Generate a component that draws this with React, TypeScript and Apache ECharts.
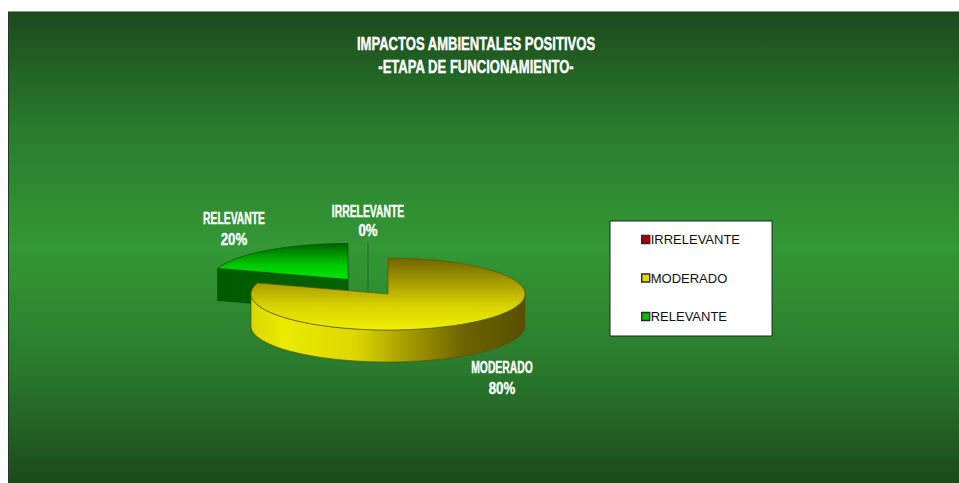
import React, { useEffect, useRef } from "react";
import * as echarts from "echarts";

const categories = ["IRRELEVANTE", "MODERADO", "RELEVANTE"];
const shares = [0, 80, 20];
const titleLines = ["IMPACTOS AMBIENTALES POSITIVOS", "-ETAPA DE FUNCIONAMIENTO-"];

const WIDTH = 959;
const HEIGHT = 483;
const PIE = { cx: 388, cy: 294, rx: 137, ry: 36, depth: 32 };
const LABEL_FONT = '"Liberation Sans", Arial, sans-serif';

type Look = {
  color: string;
  offset: [number, number];
  nameAt: [number, number];
  shareAt: [number, number];
  z: number;
  edge: string;
  top: [number, string][];
  wall: [number, string][];
};

// Per-category look; the pull-out offset moves a wedge away from the pie centre.
const looks: Record<string, Look> = {
  IRRELEVANTE: {
    color: "#b00000",
    offset: [-20, -16],
    nameAt: [368, 211],
    shareAt: [368, 230],
    z: 2,
    edge: "#246a28",
    top: [[0, "#246a28"], [1, "#246a28"]],
    wall: [[0, "#246a28"], [1, "#246a28"]],
  },
  MODERADO: {
    color: "#e0e000",
    offset: [0, 0],
    nameAt: [502, 367],
    shareAt: [502, 388],
    z: 4,
    edge: "#5c5600",
    top: [[0, "#6f6500"], [0.4, "#b0a600"], [0.68, "#d8d400"], [1, "#f0f000"]],
    wall: [
      [0, "#d8d800"],
      [0.12, "#eaea00"],
      [0.38, "#dcd800"],
      [0.55, "#aaa200"],
      [0.78, "#6c6200"],
      [1, "#585000"],
    ],
  },
  RELEVANTE: {
    color: "#00c000",
    offset: [-40, -14.5],
    nameAt: [234, 218],
    shareAt: [234, 239],
    z: 3,
    edge: "#004c00",
    top: [[0, "#006200"], [0.6, "#00c800"], [1, "#00e800"]],
    wall: [[0, "#005a00"], [1, "#006c00"]],
  },
};

const total = shares.reduce((a, b) => a + b, 0);

function rimPoint(cx: number, cy: number, turn: number): [number, number] {
  const a = turn * Math.PI * 2;
  return [cx + PIE.rx * Math.sin(a), cy - PIE.ry * Math.cos(a)];
}

function sampleTurns(from: number, to: number): number[] {
  const steps = Math.max(1, Math.ceil((to - from) * 240));
  const out: number[] = [];
  for (let i = 0; i <= steps; i++) out.push(from + ((to - from) * i) / steps);
  return out;
}

function linear(x0: number, y0: number, x1: number, y1: number, stops: [number, string][]) {
  return {
    type: "linear",
    x: x0,
    y: y0,
    x2: x1,
    y2: y1,
    global: true,
    colorStops: stops.map(([offset, color]) => ({ offset, color })),
  };
}

// Condensed white caption text, made by squeezing a bold face horizontally.
function caption(text: string, at: [number, number], squeeze: number) {
  return {
    type: "text",
    x: at[0],
    y: at[1],
    scaleX: squeeze,
    style: {
      text,
      fill: "#ffffff",
      stroke: "#ffffff",
      lineWidth: 0.4,
      font: `bold 17px ${LABEL_FONT}`,
      align: "center",
      verticalAlign: "middle",
    },
  };
}

// Builds the wedge shapes (walls, then top face, then its labels) from the share values.
function wedge(name: string, start: number, value: number) {
  const look = looks[name];
  const end = start + value / total;
  const cx = PIE.cx + look.offset[0];
  const cy = PIE.cy + look.offset[1];
  const d = PIE.depth;
  const children: any[] = [];
  const edgeStyle = { stroke: look.edge, lineWidth: 0.7 };

  if (value === 0) {
    const p = rimPoint(cx, cy, start);
    children.push({
      type: "line",
      shape: { x1: p[0], y1: p[1], x2: p[0], y2: cy + d },
      style: { stroke: look.edge, lineWidth: 1 },
    });
  } else {
    const wallFill = linear(cx - PIE.rx, 0, cx + PIE.rx, 0, look.wall);
    const startA = start * Math.PI * 2;
    const endA = end * Math.PI * 2;
    const cut = (turn: number) => {
      const p = rimPoint(cx, cy, turn);
      children.push({
        type: "polygon",
        shape: { points: [p, [cx, cy], [cx, cy + d], [p[0], p[1] + d]] },
        style: { fill: wallFill, ...edgeStyle },
      });
    };
    if (Math.sin(startA) < -1e-6) cut(start);
    if (Math.sin(endA) > 1e-6) cut(end);

    const from = Math.max(start, 0.25);
    const to = Math.min(end, 0.75);
    if (to > from) {
      const arc = sampleTurns(from, to).map((t) => rimPoint(cx, cy, t));
      const lower = arc.map((p) => [p[0], p[1] + d]).reverse();
      children.push({
        type: "polygon",
        shape: { points: [...arc, ...lower] },
        style: { fill: wallFill, ...edgeStyle },
      });
    }

    const face = sampleTurns(start, end).map((t) => rimPoint(cx, cy, t));
    const ys = [cy, ...face.map((p) => p[1])];
    children.push({
      type: "polygon",
      shape: { points: [[cx, cy], ...face] },
      style: {
        fill: linear(0, Math.min(...ys), 0, Math.max(...ys), look.top),
        ...edgeStyle,
      },
    });
  }

  children.push(caption(name, look.nameAt, 0.61));
  children.push(caption(`${Math.round((value / total) * 100)}%`, look.shareAt, 0.78));
  return { type: "group", children };
}

let running = 0;
const startTurns = shares.map((v) => {
  const s = running;
  running += v / total;
  return s;
});

export default function App() {
  const ref = useRef<HTMLDivElement>(null);

  useEffect(() => {
    document.body.style.margin = "0";
    document.body.style.background = "#ffffff";
    const chart = echarts.init(ref.current!, null, { renderer: "svg" });
    chart.setOption({
      animation: false,
      backgroundColor: "#ffffff",
      graphic: [
        {
          type: "rect",
          shape: { x: 8.5, y: 11.5, width: WIDTH, height: HEIGHT },
          style: {
            fill: linear(0, 11, 0, 483, [
              [0, "#1b4a1c"],
              [0.25, "#2a7b2d"],
              [0.5, "#339835"],
              [0.75, "#2a7b2d"],
              [1, "#1b4a1c"],
            ]),
            stroke: "#24392a",
            lineWidth: 1,
          },
        },
        {
          type: "line",
          shape: { x1: 8, y1: 11.5, x2: WIDTH, y2: 11.5 },
          style: { stroke: "#8c938c", lineWidth: 1 },
        },
        {
          type: "text",
          x: 476,
          y: 55,
          scaleX: 0.726,
          z: 5,
          style: {
            text: titleLines.join("\n"),
            fill: "#ffffff",
            stroke: "#ffffff",
            lineWidth: 0.4,
            font: `bold 18px ${LABEL_FONT}`,
            lineHeight: 23,
            align: "center",
            verticalAlign: "middle",
          },
        },
      ],
      legend: {
        orient: "vertical",
        left: 610,
        top: 221,
        data: categories,
        icon: "rect",
        itemWidth: 8,
        itemHeight: 8,
        itemGap: 25.5,
        padding: [12, 32, 13, 31],
        backgroundColor: "#ffffff",
        borderColor: "#222222",
        borderWidth: 1,
        selectedMode: false,
        textStyle: {
          color: "#111111",
          fontFamily: LABEL_FONT,
          fontSize: 13,
          padding: [0, 0, 0, -4],
        },
        itemStyle: { borderColor: "#2a2a2a", borderWidth: 1.4 },
      },
      series: categories.map((name, i) => ({
        type: "custom",
        name,
        coordinateSystem: "none",
        z: looks[name].z,
        itemStyle: { color: looks[name].color },
        data: [shares[i]],
        silent: true,
        renderItem: (_: any, api: any) => wedge(name, startTurns[i], api.value(0)),
      })),
    });
    return () => chart.dispose();
  }, []);

  return (
    <div
      ref={ref}
      style={{ position: "absolute", left: 0, top: 0, width: WIDTH, height: HEIGHT }}
    />
  );
}
